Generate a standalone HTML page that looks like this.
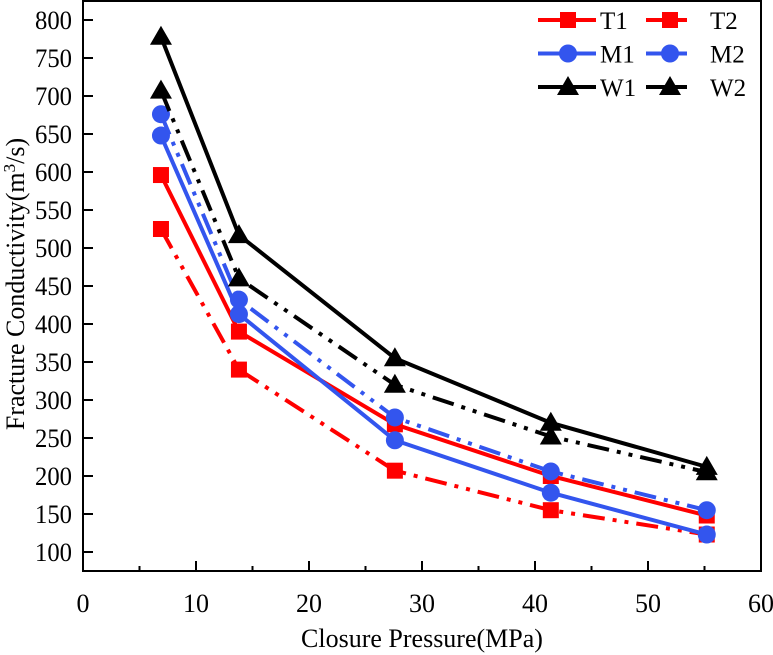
<!DOCTYPE html>
<html><head><meta charset="utf-8"><style>
body{margin:0;background:#fff}
svg{display:block;font-family:"Liberation Serif",serif}
</style></head><body>
<svg id="c" width="773" height="655"></svg>
<script>
const xValues=[6.9,13.8,27.6,41.4,55.2];
const seriesNames=["T1","T2","M1","M2","W1","W2"];
const T1=[596,390,268,200,148];
const T2=[525,340,207,155,123];
const M1=[648,413,247,178,123];
const M2=[676,432,277,206,155];
const W1=[778,517,355,270,212];
const W2=[707,460,320,252,205];
const xTicks=[0,10,20,30,40,50,60];
const yTicks=[100,150,200,250,300,350,400,450,500,550,600,650,700,750,800];

const NS="http://www.w3.org/2000/svg";
const svg=document.getElementById('c');
const L=83,R=761,T=1,B=571;
const X=v=>L+(v-0)/60*(R-L);
const Y=v=>552-(v-100)*(532/700);
function mk(t,a,p){const e=document.createElementNS(NS,t);for(const k in a)e.setAttribute(k,a[k]);(p||svg).appendChild(e);return e;}

const axes=mk('g',{});


mk('rect',{x:L,y:T,width:R-L,height:B-T,fill:'none',stroke:'#000','stroke-width':2},axes);
xTicks.forEach(v=>{
  mk('line',{x1:X(v),x2:X(v),y1:B,y2:B-10,stroke:'#000','stroke-width':2},axes);
  if(v<60)mk('line',{x1:X(v+5),x2:X(v+5),y1:B,y2:B-5,stroke:'#000','stroke-width':2},axes);
  const t=mk('text',{x:X(v),y:612,'text-anchor':'middle','font-size':26},axes);t.textContent=v;
  
  
});
yTicks.forEach(v=>{
  mk('line',{x1:L,x2:L+10,y1:Y(v),y2:Y(v),stroke:'#000','stroke-width':2},axes);
  const t=mk('text',{x:L-11,y:Y(v)+9,'text-anchor':'end','font-size':26,textLength:37,lengthAdjust:'spacingAndGlyphs'},axes);t.textContent=v;
  
  
});
const xt=mk('text',{x:422,y:647,'text-anchor':'middle','font-size':26});
xt.textContent='Closure Pressure(MPa)';


const yt=mk('text',{transform:'translate(24,284) rotate(-90)','text-anchor':'middle','font-size':26});
yt.innerHTML='Fracture Conductivity(m<tspan dy="-9" font-size="17">3</tspan><tspan dy="9">/s)</tspan>';



const data=[T1,T2,M1,M2,W1,W2];
const colors=['#ff0000','#ff0000','#3355ee','#3355ee','#000','#000'];
const markers=['sq','sq','ci','ci','tr','tr'];
const dash='22,8,4,8,4,8';
function marker(type,x,y,c,g){
  if(type==='sq')mk('rect',{x:x-8,y:y-8,width:16,height:16,fill:c},g);
  else if(type==='ci')mk('circle',{cx:x,cy:y,r:9,fill:c},g);
  else mk('polygon',{points:`${x},${y-11} ${x-11},${y+8} ${x+11},${y+8}`,fill:c},g);
}
data.forEach((s,i)=>{
  const g=mk('g',{});
  
  
  const pts=s.map((v,j)=>X(xValues[j])+','+Y(v)).join(' ');
  const a={points:pts,fill:'none',stroke:colors[i],'stroke-width':4};
  if(i%2===1)a['stroke-dasharray']=dash;
  mk('polyline',a,g);
  s.forEach((v,j)=>marker(markers[i],X(xValues[j]),Y(v),colors[i],g));
});

const lg=mk('g',{});


seriesNames.forEach((n,i)=>{
  const col=i%2,row=Math.floor(i/2);
  const x0=col?646:538,x1=col?687:596,y=20+row*33.5;
  const e=mk('g',{},lg);
  
  
  mk('line',{x1:x0,x2:x1,y1:y,y2:y,stroke:colors[i],'stroke-width':4},e);
  marker(markers[i],col?670:568,y,colors[i],e);
  const t=mk('text',{x:col?710:600,y:y+9,'font-size':25},e);t.textContent=n;
});
</script>
</body></html>
